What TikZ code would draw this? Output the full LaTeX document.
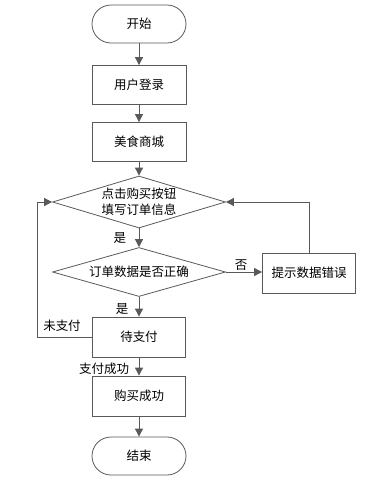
\documentclass[tikz,border=0pt]{standalone}
\usepackage{fontspec}
\setmainfont{Noto Sans CJK SC}
\usetikzlibrary{shapes.geometric,arrows.meta}
\definecolor{ln}{HTML}{595959}
\begin{document}
\begin{tikzpicture}[x=1pt,y=-1pt,
  every node/.style={font=\fontsize{12.5}{16}\selectfont},
  term/.style={draw=ln,line width=0.8pt,rounded corners=19pt,minimum width=94pt,minimum height=38pt,inner sep=0pt},
  proc/.style={draw=ln,line width=0.8pt,minimum width=94pt,minimum height=39pt,inner sep=0pt},
  dec/.style={draw=ln,line width=0.8pt,diamond,aspect=3.33,minimum width=173pt,minimum height=52pt,inner sep=0pt},
  arr/.style={draw=ln,line width=0.8pt,-{Triangle[length=8pt,width=8pt]}},
  lab/.style={inner sep=1pt}]
\useasboundingbox (0,0) rectangle (389,483);
\node[term] (start) at (139,24) {开始};
\node[proc] (login) at (139,85) {用户登录};
\node[proc] (mall) at (139,142) {美食商城};
\node[dec,align=center] (buy) at (139,202) {点击购买按钮\\填写订单信息};
\node[dec,minimum height=49pt] (check) at (139,272) {订单数据是否正确};
\node[proc,minimum width=93pt,minimum height=40pt] (err) at (309,273) {提示数据错误};
\node[proc,minimum width=93pt,minimum height=40pt] (pay) at (139,337) {待支付};
\node[proc,minimum width=93pt,minimum height=40pt] (ok) at (139,396) {购买成功};
\node[term] (end) at (139,456) {结束};
\draw[arr] (start) -- (login);
\draw[arr] (login) -- (mall);
\draw[arr] (mall) -- (buy);
\draw[arr] (buy) -- (check);
\draw[arr] (check.east) -- (err.west |- check.east);
\draw[arr] (err.north) |- (buy.east);
\draw[arr] (check) -- (pay);
\draw[arr] (pay) -- (ok);
\draw[arr] (ok) -- (end);
\coordinate (lp) at (37,337);
\draw[arr] (pay.west) -- (lp) |- (buy.west);
\node[lab] (l1) at (120,238) {是};
\node[lab] (l2) at (241,265) {否};
\node[lab] (l3) at (122,309) {是};
\node[lab] (l4) at (62,326) {未支付};
\node[lab] (l5) at (104,369) {支付成功};
\end{tikzpicture}
\end{document}
